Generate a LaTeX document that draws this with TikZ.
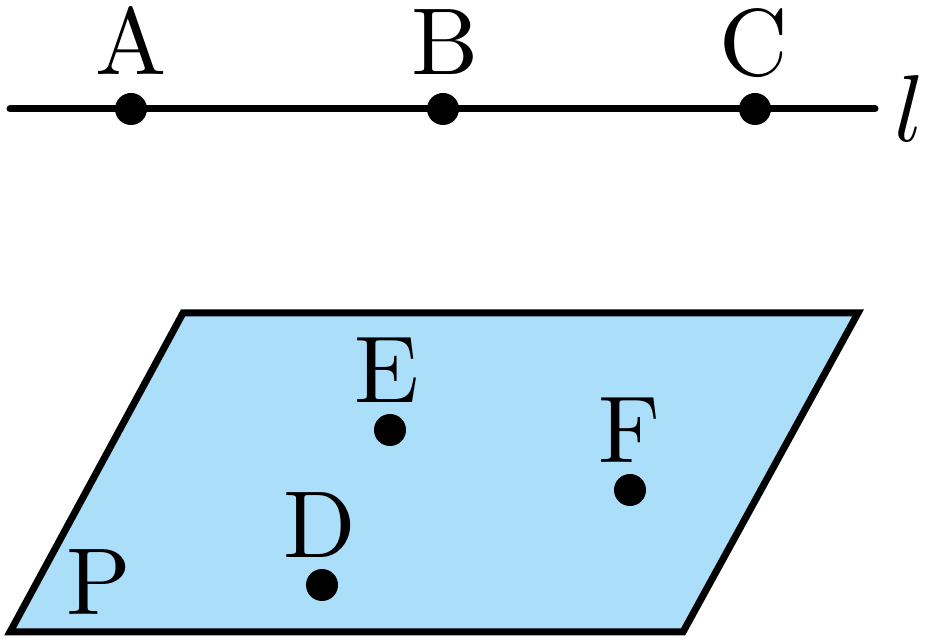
\documentclass[tikz,border=0pt]{standalone}
\usepackage{amsmath}
\usepackage{amssymb}
\usepackage{tikz}

\tikzset{
  dotPoint/.style={circle,fill=black,inner sep=0pt,minimum size=32pt},
  ptLabel/.style={anchor=base,inner sep=0pt,font=\normalsize,scale=9.5,transform shape}
}

\begin{document}
\begin{tikzpicture}[x=1pt,y=1pt]
\definecolor{fillColor}{RGB}{255,255,255}
\path[use as bounding box,fill=fillColor,fill opacity=0.00] (0,0) rectangle (925,644);
\definecolor{drawColor}{RGB}{0,0,0}
\definecolor{planeColor}{RGB}{171,223,249}

% line l
\coordinate (lineL) at ( 10,535);
\coordinate (lineR) at (875,535);
\path[draw=drawColor,line width= 7pt,line cap=round] (lineL) -- (lineR);
\node[dotPoint] (A) at (131,535) {};
\node[dotPoint] (B) at (443,535) {};
\node[dotPoint] (C) at (755,535) {};
\node[ptLabel] (labA) at (131,569) {A};
\node[ptLabel] (labB) at (445,569) {B};
\node[ptLabel] (labC) at (754,568) {C};
\node[ptLabel] (labl) at (910,502) {$l$};

% plane P
\path[draw=drawColor,line width= 7pt,line join=miter,fill=planeColor] ( 10, 12) -- (683, 12) -- (858,331) -- (183,331) -- cycle;
\node[dotPoint] (D) at (322, 59) {};
\node[dotPoint] (E) at (390,214) {};
\node[dotPoint] (F) at (630,154) {};
\node[ptLabel] (labD) at (320, 86) {D};
\node[ptLabel] (labE) at (387,241) {E};
\node[ptLabel] (labF) at (630,181) {F};
\node[ptLabel] (labP) at ( 99, 29) {P};
\end{tikzpicture}
\end{document}
